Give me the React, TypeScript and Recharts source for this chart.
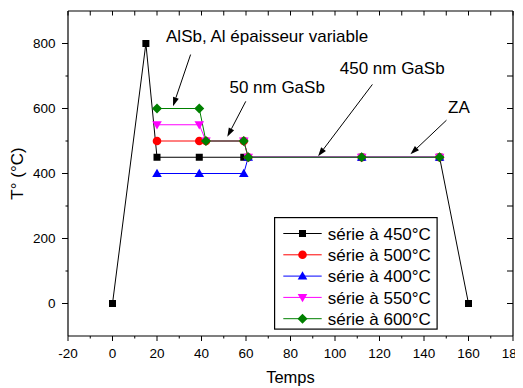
import React from 'react';
import { LineChart, Line, XAxis, YAxis, ReferenceLine, ReferenceDot, Legend } from 'recharts';

const times450 = [0, 15, 20, 39, 59, 112, 147, 160];
const temps450 = [0, 800, 450, 450, 450, 450, 450, 0];
const times500 = [20, 39, 42, 59, 61, 112, 147];
const temps500 = [500, 500, 500, 500, 450, 450, 450];
const times400 = [20, 39, 59, 61, 112, 147];
const temps400 = [400, 400, 400, 450, 450, 450];
const times550 = [20, 39, 42, 59, 61, 112, 147];
const temps550 = [550, 550, 500, 500, 450, 450, 450];
const times600 = [20, 39, 42, 59, 61, 112, 147];
const temps600 = [600, 600, 500, 500, 450, 450, 450];

const seriesNames = ['série à 450°C', 'série à 500°C', 'série à 400°C', 'série à 550°C', 'série à 600°C'];
const seriesColors = ['#000000', '#ff0000', '#0000ff', '#ff00ff', '#008000'];
const seriesMarkers = ['square', 'circle', 'up', 'down', 'diamond'];

const xTicks = [-20, -10, 0, 10, 20, 30, 40, 50, 60, 70, 80, 90, 100, 110, 120, 130, 140, 150, 160, 170, 180];
const yTicks = [0, 100, 200, 300, 400, 500, 600, 700, 800];

const noteLabels = ['AlSb, Al épaisseur variable', '50 nm GaSb', '450 nm GaSb', 'ZA'];
const noteX = [69.5, 74, 125.7, 155.7];
const noteY = [823, 666, 725, 605];
const arrowFromX = [35.1, 59.9, 116.8, 150.1];
const arrowFromY = [766, 622, 674, 564];
const arrowToX = [27.2, 51.6, 92.4, 133.9];
const arrowToY = [607, 513, 453, 459];

const FONT = "'Liberation Sans', Arial, sans-serif";

const toPoints = (xs: number[], ys: number[]) => xs.map((x, i) => ({ x, y: ys[i] }));
const seriesData = [
  toPoints(times450, temps450),
  toPoints(times500, temps500),
  toPoints(times400, temps400),
  toPoints(times550, temps550),
  toPoints(times600, temps600),
];

function marker(kind: string, cx: number, cy: number, color: string, key?: any) {
  switch (kind) {
    case 'square':
      return <rect key={key} x={cx - 3.5} y={cy - 3.5} width={7} height={7} fill={color} />;
    case 'circle':
      return <circle key={key} cx={cx} cy={cy} r={4.3} fill={color} />;
    case 'up':
      return <polygon key={key} points={`${cx},${cy - 4.8} ${cx + 4.8},${cy + 3.4} ${cx - 4.8},${cy + 3.4}`} fill={color} />;
    case 'down':
      return <polygon key={key} points={`${cx},${cy + 4.8} ${cx + 4.8},${cy - 3.4} ${cx - 4.8},${cy - 3.4}`} fill={color} />;
    default:
      return <polygon key={key} points={`${cx},${cy - 5} ${cx + 5},${cy} ${cx},${cy + 5} ${cx - 5},${cy}`} fill={color} />;
  }
}

const BottomTick = (props: any) => {
  const { x, y, payload } = props;
  const major = payload.value % 20 === 0;
  return (
    <g>
      <line x1={x} y1={y} x2={x} y2={y + (major ? 5 : 2.5)} stroke="#000" strokeWidth={1} />
      {major && (
        <text x={x} y={y + 17.6} dy="0.36em" textAnchor="middle" fontSize={13.5} fontFamily={FONT} fill="#000">
          {payload.value}
        </text>
      )}
    </g>
  );
};

const LeftTick = (props: any) => {
  const { x, y, payload } = props;
  const major = payload.value % 200 === 0;
  return (
    <g>
      <line x1={x} y1={y} x2={x - (major ? 6 : 2.5)} y2={y} stroke="#000" strokeWidth={1} />
      {major && (
        <text x={x - 12.5} y={y} dy="0.36em" textAnchor="end" fontSize={13.5} fontFamily={FONT} fill="#000">
          {payload.value}
        </text>
      )}
    </g>
  );
};

const TopTick = (props: any) => {
  const { x, y } = props;
  return <line x1={x} y1={y} x2={x} y2={y + 4.5} stroke="#000" strokeWidth={1} />;
};

const RightTick = (props: any) => {
  const { x, y } = props;
  return <line x1={x} y1={y} x2={x - 6} y2={y} stroke="#000" strokeWidth={1} />;
};

const Arrow = (props: any) => {
  const { x1, y1, x2, y2 } = props;
  const ang = Math.atan2(y2 - y1, x2 - x1);
  const L = 9;
  const W = 3;
  const bx = x2 - L * Math.cos(ang);
  const by = y2 - L * Math.sin(ang);
  const px = -Math.sin(ang) * W;
  const py = Math.cos(ang) * W;
  return (
    <g>
      <line x1={x1} y1={y1} x2={bx} y2={by} stroke="#000" strokeWidth={1} />
      <polygon points={`${x2},${y2} ${bx + px},${by + py} ${bx - px},${by - py}`} fill="#000" />
    </g>
  );
};

const LegendBox = () => (
  <svg width={164} height={113} style={{ display: 'block' }}>
    <rect x={0.6} y={0.6} width={162.5} height={111.5} fill="#fff" stroke="#000" strokeWidth={1.2} />
    {seriesNames.map((name, i) => {
      const cy = 16.5 + i * 21.3;
      return (
        <g key={name}>
          <line x1={9.3} y1={cy} x2={47.7} y2={cy} stroke={seriesColors[i]} strokeWidth={1} />
          {marker(seriesMarkers[i], 28.5, cy, seriesColors[i])}
          <text x={53.7} y={cy} dy="0.36em" fontSize={17} fontFamily={FONT} fill="#000">
            {name}
          </text>
        </g>
      );
    })}
  </svg>
);

export default function App() {
  return (
    <LineChart width={515} height={380} margin={{ top: 2, right: 9, bottom: 0, left: 0 }}>
      <XAxis
        xAxisId="b"
        type="number"
        dataKey="x"
        domain={[-20, 180]}
        ticks={xTicks}
        interval={0}
        tickLine={false}
        tickSize={0}
        tickMargin={0}
        tick={BottomTick}
        axisLine={{ stroke: '#000', strokeWidth: 1.2 }}
        height={52}
        allowDataOverflow
        label={(p: any) => (
          <text
            x={p.viewBox.x + p.viewBox.width / 2}
            y={p.viewBox.y + 46.5}
            textAnchor="middle"
            fontSize={16.5}
            fontFamily={FONT}
            fill="#000"
          >
            Temps
          </text>
        )}
      />
      <XAxis
        xAxisId="t"
        orientation="top"
        type="number"
        dataKey="x"
        domain={[-20, 180]}
        ticks={xTicks}
        interval={0}
        tickLine={false}
        tickSize={0}
        tickMargin={0}
        tick={TopTick}
        axisLine={{ stroke: '#000', strokeWidth: 1.2 }}
        height={1}
        allowDataOverflow
      />
      <YAxis
        yAxisId="l"
        type="number"
        dataKey="y"
        domain={[-100, 900]}
        ticks={yTicks}
        interval={0}
        tickLine={false}
        tickSize={0}
        tickMargin={0}
        tick={LeftTick}
        axisLine={{ stroke: '#000', strokeWidth: 1.2 }}
        width={60}
        allowDataOverflow
        label={(p: any) => {
          const cx = 9;
          const cy = p.viewBox.y + p.viewBox.height / 2;
          return (
            <text
              x={cx}
              y={cy}
              dy="0.36em"
              transform={`rotate(-90 ${cx} ${cy})`}
              textAnchor="middle"
              fontSize={17}
              fontFamily={FONT}
              fill="#000"
            >
              T° (°C)
            </text>
          );
        }}
      />
      <YAxis
        yAxisId="r"
        orientation="right"
        type="number"
        dataKey="y"
        domain={[-100, 900]}
        ticks={yTicks}
        interval={0}
        tickLine={false}
        tickSize={0}
        tickMargin={0}
        tick={RightTick}
        axisLine={{ stroke: '#000', strokeWidth: 1.2 }}
        width={1}
        allowDataOverflow
      />
      {seriesData.map((d, i) => (
        <Line
          key={seriesNames[i]}
          xAxisId="b"
          yAxisId="l"
          data={d}
          dataKey="y"
          name={seriesNames[i]}
          stroke={seriesColors[i]}
          strokeWidth={1}
          isAnimationActive={false}
          dot={(p: any) => marker(seriesMarkers[i], p.cx, p.cy, seriesColors[i], p.index)}
          activeDot={false}
        />
      ))}
      {arrowFromX.map((fx, i) => (
        <ReferenceLine
          key={'a' + i}
          xAxisId="b"
          yAxisId="l"
          segment={[
            { x: fx, y: arrowFromY[i] },
            { x: arrowToX[i], y: arrowToY[i] },
          ]}
          shape={Arrow}
          ifOverflow="visible"
        />
      ))}
      {noteLabels.map((t, i) => (
        <ReferenceDot
          key={'n' + i}
          xAxisId="b"
          yAxisId="l"
          x={noteX[i]}
          y={noteY[i]}
          r={0}
          ifOverflow="visible"
          shape={(p: any) => (
            <text x={p.cx} y={p.cy} dy="0.36em" textAnchor="middle" fontSize={17} fontFamily={FONT} fill="#000">
              {t}
            </text>
          )}
        />
      ))}
      <Legend
        layout="vertical"
        align="center"
        verticalAlign="middle"
        content={LegendBox}
        wrapperStyle={{ left: 266, top: 209, width: 164, height: 113 }}
      />
    </LineChart>
  );
}
